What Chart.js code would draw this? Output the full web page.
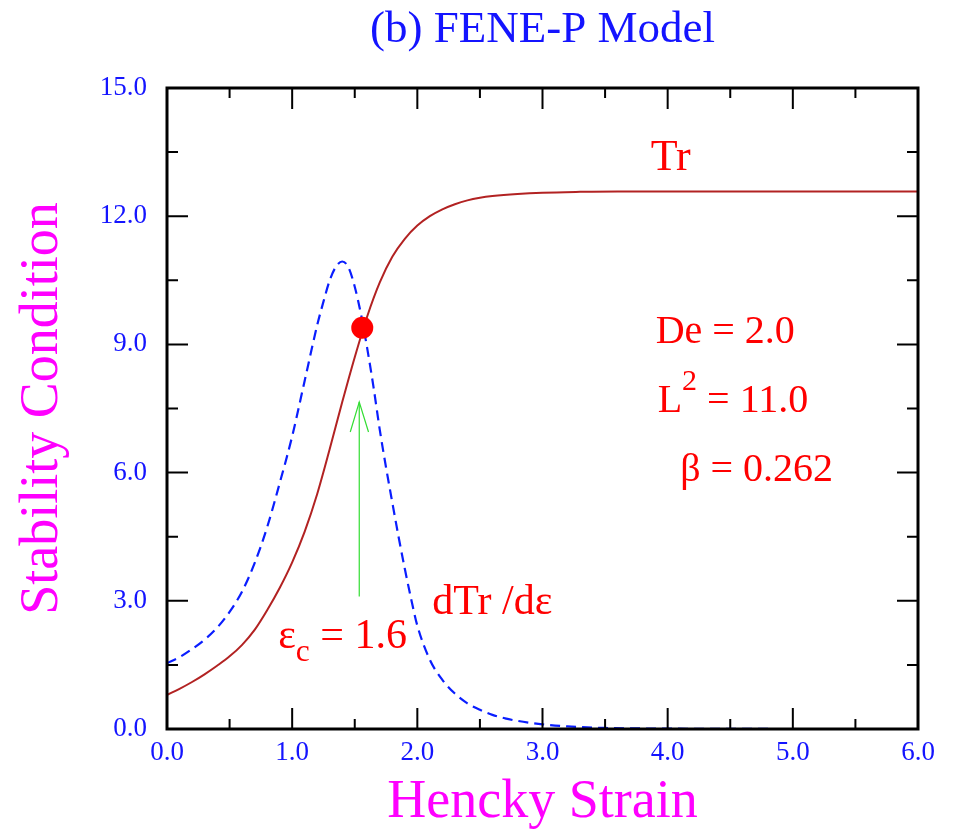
<!DOCTYPE html>
<html>
<head>
<meta charset="utf-8">
<script src="https://cdn.jsdelivr.net/npm/chart.js@4"></script>
<style>
  html, body { margin: 0; padding: 0; background: #fff; }
  #wrap { width: 958px; height: 835px; position: relative; }
</style>
</head>
<body>
<div id="wrap"><canvas id="feneChart"></canvas></div>
<script>
// Tr curve (solid)
const strainTr = [0, 0.1, 0.2, 0.3, 0.4, 0.5, 0.6, 0.7, 0.8, 0.9, 1.0, 1.1, 1.2, 1.3, 1.4, 1.5, 1.6, 1.7, 1.8, 1.9, 2.0, 2.1, 2.2, 2.3, 2.4, 2.5, 2.6, 2.8, 3.0, 3.3, 3.6, 4.0, 5.0, 6.0];
const trace = [0.80, 0.94, 1.10, 1.28, 1.48, 1.70, 1.97, 2.32, 2.78, 3.30, 3.90, 4.62, 5.50, 6.55, 7.65, 8.70, 9.66, 10.45, 11.05, 11.47, 11.78, 12.00, 12.16, 12.28, 12.37, 12.43, 12.47, 12.52, 12.55, 12.57, 12.58, 12.58, 12.58, 12.58];

// dTr/dε curve (dashed)
const strainSlope = [0, 0.1, 0.2, 0.3, 0.4, 0.5, 0.6, 0.7, 0.8, 0.9, 1.0, 1.1, 1.2, 1.25, 1.3, 1.35, 1.4, 1.45, 1.5, 1.55, 1.6, 1.65, 1.7, 1.75, 1.8, 1.85, 1.9, 1.95, 2.0, 2.1, 2.2, 2.3, 2.4, 2.5, 2.6, 2.7, 2.8, 3.0, 3.2, 3.5, 4.0, 4.5, 5.0, 6.0];
const slope = [1.54, 1.68, 1.87, 2.09, 2.37, 2.74, 3.22, 3.88, 4.72, 5.75, 6.85, 8.15, 9.45, 10.00, 10.50, 10.82, 10.94, 10.80, 10.35, 9.70, 8.90, 8.00, 7.00, 6.12, 5.30, 4.50, 3.75, 3.05, 2.42, 1.62, 1.15, 0.83, 0.60, 0.45, 0.33, 0.25, 0.19, 0.11, 0.06, 0.025, 0.008, 0.003, 0, 0];

// critical point and the arrow pointing at it
const criticalX = [1.56];
const criticalY = [9.39];
const arrowShaftX = [1.536, 1.536];
const arrowShaftY = [3.10, 7.65];
const arrowHeadX = [1.464, 1.536, 1.61];
const arrowHeadY = [6.95, 7.65, 6.95];

// axis ticks
const xMajor = [0, 1, 2, 3, 4, 5, 6];
const xMinor = [0.5, 1.5, 2.5, 3.5, 4.5, 5.5];
const yMajor = [0, 3, 6, 9, 12, 15];
const yMinor = [1.5, 4.5, 7.5, 10.5, 13.5];

const serif = "'Liberation Serif', 'Times New Roman', serif";

const pts = (xs, ys) => xs.map((v, i) => ({ x: v, y: ys[i] }));

// inward ticks on all four sides, plus the frame
const frameTicks = {
  id: 'frameTicks',
  afterDraw(chart) {
    const { ctx, chartArea: a, scales: { x, y } } = chart;
    ctx.save();
    ctx.strokeStyle = '#000';
    ctx.lineWidth = 2;
    ctx.beginPath();
    const xt = (v, len) => {
      const px = x.getPixelForValue(v);
      ctx.moveTo(px, a.bottom); ctx.lineTo(px, a.bottom - len);
      ctx.moveTo(px, a.top); ctx.lineTo(px, a.top + len);
    };
    const yt = (v, len) => {
      const py = y.getPixelForValue(v);
      ctx.moveTo(a.left, py); ctx.lineTo(a.left + len, py);
      ctx.moveTo(a.right, py); ctx.lineTo(a.right - len, py);
    };
    xMajor.forEach(v => xt(v, 21));
    xMinor.forEach(v => xt(v, 10));
    yMajor.forEach(v => yt(v, 21));
    yMinor.forEach(v => yt(v, 11));
    ctx.stroke();
    ctx.lineWidth = 3;
    ctx.strokeRect(a.left, a.top, a.right - a.left, a.bottom - a.top);
    ctx.restore();
  }
};

// text notes placed in data units
const notes = [
  { x: 3.864, y: 13.08, size: 44, runs: [{ t: 'Tr' }] },
  { x: 2.12, y: 2.69, size: 42, runs: [{ t: 'dTr /dε' }] },
  { x: 0.888, y: 1.90, size: 42, runs: [{ t: 'ε' }, { t: 'c', sub: true }, { t: ' = 1.6' }] },
  { x: 3.904, y: 9.03, size: 40, runs: [{ t: 'De = 2.0' }] },
  { x: 3.92, y: 7.42, size: 40, runs: [{ t: 'L' }, { t: '2', sup: true }, { t: ' = 11.0' }] },
  { x: 4.10, y: 5.80, size: 40, runs: [{ t: 'β = 0.262' }] }
];

const notePlugin = {
  id: 'notes',
  afterDraw(chart) {
    const { ctx, scales: { x, y } } = chart;
    ctx.save();
    ctx.fillStyle = '#ff0000';
    ctx.textBaseline = 'alphabetic';
    ctx.textAlign = 'left';
    notes.forEach(n => {
      let px = x.getPixelForValue(n.x);
      const py = y.getPixelForValue(n.y);
      n.runs.forEach(r => {
        const small = r.sub || r.sup;
        const size = small ? n.size * 0.75 : n.size;
        ctx.font = size + 'px ' + serif;
        const dy = r.sub ? n.size * 0.32 : (r.sup ? -n.size * 0.55 : 0);
        ctx.fillText(r.t, px, py + dy);
        px += ctx.measureText(r.t).width;
      });
    });
    ctx.restore();
  }
};

new Chart(document.getElementById('feneChart'), {
  type: 'line',
  data: {
    datasets: [
      {
        label: 'critical',
        type: 'scatter',
        data: pts(criticalX, criticalY),
        pointRadius: 11,
        pointBackgroundColor: '#ff0000',
        pointBorderWidth: 0,
        order: 0
      },
      {
        label: 'dTr/dε',
        data: pts(strainSlope, slope),
        borderColor: '#0a1eff',
        borderWidth: 2.2,
        borderDash: [10, 6],
        pointRadius: 0,
        cubicInterpolationMode: 'monotone',
        order: 1
      },
      {
        label: 'Tr',
        data: pts(strainTr, trace),
        borderColor: '#b22222',
        borderWidth: 2,
        pointRadius: 0,
        cubicInterpolationMode: 'monotone',
        order: 2
      },
      {
        label: 'arrow',
        data: pts(arrowShaftX, arrowShaftY),
        borderColor: '#33dd33',
        borderWidth: 1.2,
        pointRadius: 0,
        order: 3
      },
      {
        label: 'arrowhead',
        data: pts(arrowHeadX, arrowHeadY),
        borderColor: '#33dd33',
        borderWidth: 1.2,
        pointRadius: 0,
        order: 3
      }
    ]
  },
  options: {
    responsive: true,
    maintainAspectRatio: false,
    animation: false,
    layout: { padding: { right: 40 } },
    plugins: {
      legend: { display: false },
      tooltip: { enabled: false },
      title: { display: false }
    },
    scales: {
      x: {
        type: 'linear',
        min: 0,
        max: 6,
        grid: { display: false, drawTicks: false },
        border: { display: false },
        ticks: {
          stepSize: 1,
          padding: 8,
          color: '#1414ff',
          font: { family: serif, size: 27 },
          callback: v => v.toFixed(1)
        },
        title: {
          display: true,
          text: 'Hencky Strain',
          color: '#ff00ff',
          font: { family: serif, size: 54 },
          padding: { top: 0, bottom: 0 }
        },
        afterFit: s => { s.height = 106; }
      },
      xTop: {
        type: 'linear',
        position: 'top',
        min: 0,
        max: 6,
        grid: { display: false, drawTicks: false },
        border: { display: false },
        ticks: { display: false },
        title: {
          display: true,
          text: '(b) FENE-P Model',
          color: '#1414ff',
          font: { family: serif, size: 45 },
          padding: { top: 3, bottom: 0 }
        },
        afterFit: s => { s.height = 88; }
      },
      y: {
        min: 0,
        max: 15,
        grid: { display: false, drawTicks: false },
        border: { display: false },
        ticks: {
          stepSize: 3,
          padding: 20,
          color: '#1414ff',
          font: { family: serif, size: 27 },
          callback: v => v.toFixed(1)
        },
        title: {
          display: true,
          text: 'Stability Condition',
          color: '#ff00ff',
          font: { family: serif, size: 54 },
          padding: { top: 10, bottom: 0 }
        },
        afterFit: s => { s.width = 167; }
      }
    }
  },
  plugins: [frameTicks, notePlugin]
});
</script>
</body>
</html>
